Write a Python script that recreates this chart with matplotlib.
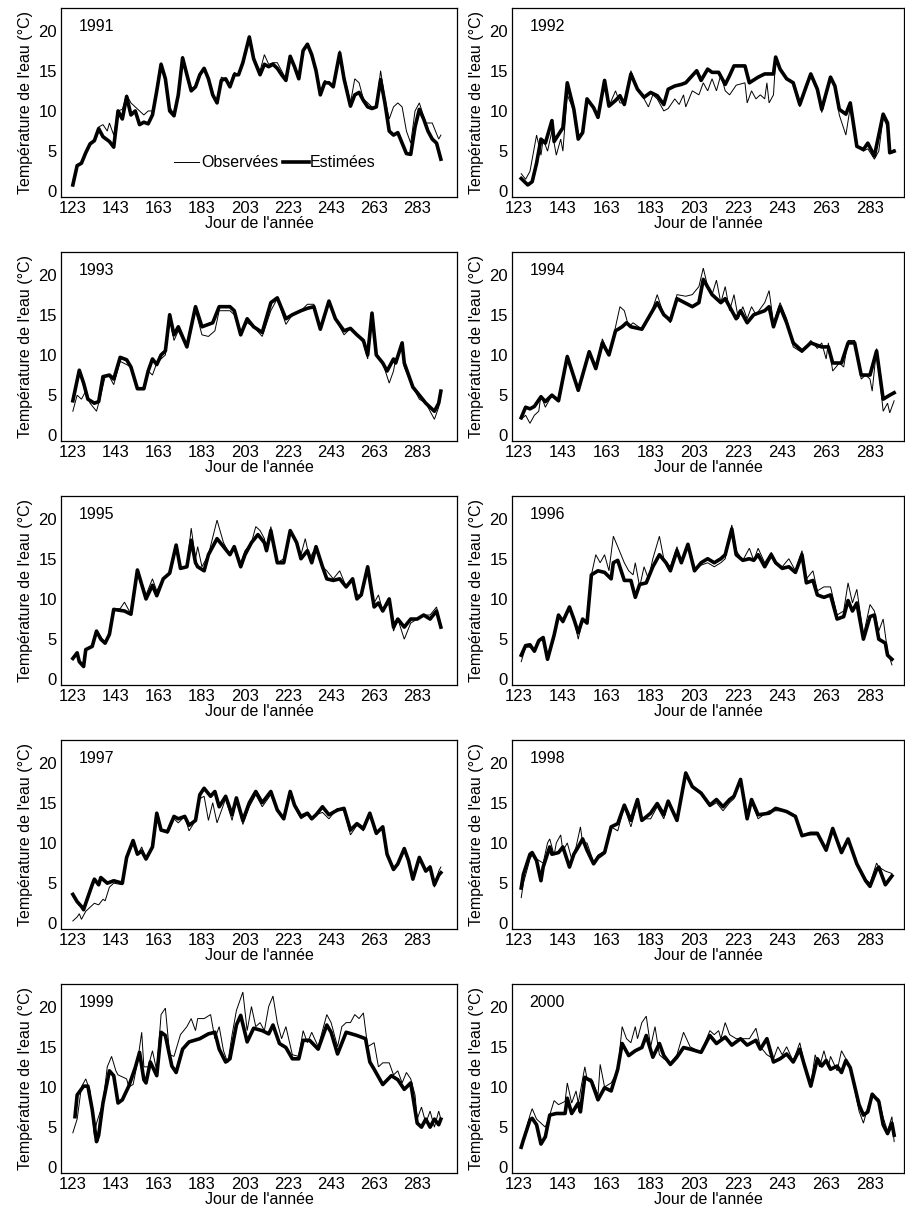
import matplotlib
matplotlib.use("Agg")
import matplotlib.pyplot as plt

plt.rcParams['font.family'] = ['Liberation Sans Narrow', 'Liberation Sans', 'DejaVu Sans']

# (day, temperature) turning points
est_1991 = [(123,0.8),(125,3.2),(127,3.5),(129,4.8),(131,5.9),(133,6.3),(135,7.8),(137,6.8),(140,6.2),(142,5.5),(144,10),(146,9),(148,11.8),(150,9.5),(152,10),(154,8.3),(156,8.6),(158,8.4),(160,9.5),(162,12.5),(164,15.8),(166,14),(168,10),(170,9.4),(172,12),(174,16.6),(176,14.5),(178,12.5),(180,13),(182,14.5),(184,15.3),(186,14),(188,12),(190,11),(192,13.8),(194,14),(196,13),(198,14.5),(200,14.5),(202,16),(205,19.2),(207,16.5),(210,14.5),(212,15.8),(214,15.5),(216,15.8),(218,15.3),(220,14.5),(222,13.8),(224,16.8),(226,15.5),(228,14),(230,17.5),(232,18.3),(234,17),(236,15),(238,12),(240,13.5),(242,13.5),(244,13),(247,17.2),(249,14),(252,10.6),(254,12),(256,12.3),(258,11.3),(260,10.5),(262,10.3),(264,10.5),(266,13.9),(268,11),(270,7.5),(272,7),(274,7.3),(276,6),(278,4.7),(280,4.6),(282,8),(284,10.2),(286,9),(288,7.5),(290,6.5),(292,6),(294,4)]
obs_1991 = [(123,0.8),(125,3.2),(127,3.5),(129,4.8),(131,6),(133,6.5),(135,8),(137,8.3),(139,7.5),(140,8.5),(142,7),(144,10),(146,10.2),(148,12),(150,11),(152,10.5),(154,10),(156,9.5),(158,10),(160,10),(162,12.5),(164,16),(166,14),(168,10.5),(170,9.6),(172,12),(174,16.8),(176,14.5),(178,12.8),(180,13),(182,14.5),(184,15.3),(186,14),(188,12),(190,11.2),(192,14.2),(194,14),(196,13.2),(198,14.8),(200,14.5),(202,16),(205,19),(207,16.5),(210,15),(212,17),(214,15.8),(216,16),(218,16),(220,15),(222,14),(224,16.8),(226,15.5),(228,14.2),(230,17.5),(232,18.3),(234,17.2),(236,15),(238,12.2),(240,13.8),(242,13.5),(244,13.2),(247,17.5),(249,14.5),(252,11),(254,14),(256,13.5),(258,11.5),(260,11),(262,10.5),(264,10.5),(266,15),(268,11.5),(270,9),(272,10.5),(274,11),(276,10.5),(278,7.5),(280,6),(282,10),(284,11),(287,8.5),(290,8.5),(293,6.5),(294,7)]

est_1992 = [(124,1.6),(127,0.8),(129,1.2),(131,3.5),(133,6.5),(135,6),(138,8.8),(139,6.2),(142,7.5),(143,7.9),(145,13.5),(148,10.2),(150,6.5),(152,7.3),(154,11.5),(157,10.4),(159,9.2),(162,13.8),(164,10.6),(167,11.3),(169,11.9),(171,10.8),(174,14.6),(177,12.7),(180,11.7),(183,12.3),(186,11.9),(189,10.8),(191,12.7),(194,13.1),(197,13.3),(199,13.5),(204,15),(206,13.8),(209,15.2),(211,14.8),(214,14.8),(217,13.3),(219,14.4),(221,15.6),(226,15.6),(228,13.5),(232,14.2),(235,14.6),(239,14.6),(240,16.7),(242,15.2),(245,14),(248,13.5),(251,10.8),(254,13.1),(256,14.6),(259,12.7),(261,10.2),(265,14.2),(267,13.1),(269,10.2),(272,9.6),(274,11),(277,5.6),(280,5.2),(282,6),(285,4.4),(289,9.6),(291,8.5),(292,4.8),(294,5)]
obs_1992 = [(124,2.2),(126,1.5),(128,2.5),(131,7),(133,4.5),(134,6.5),(136,5),(138,7.5),(140,4.5),(142,6.5),(143,5),(145,12),(148,10),(150,6.5),(152,7.3),(154,11.5),(157,10.4),(159,9.2),(162,13.5),(164,10.6),(167,12.5),(169,11),(171,11),(174,15),(177,12.7),(180,11.5),(182,10.5),(184,12),(186,11.5),(189,10),(191,10.3),(194,11.5),(196,10.8),(198,12),(199,10.5),(202,12.5),(205,12),(207,13.5),(209,12.5),(211,14),(213,12.5),(215,14.5),(217,12.5),(219,12),(222,13.2),(226,13.5),(227,11),(229,12.5),(231,11.5),(233,12),(235,11.5),(236,13.5),(237,11),(239,12),(240,16.5),(242,15),(245,14),(248,13.5),(251,10.5),(254,13.1),(256,14.3),(259,12.5),(261,9.8),(265,14),(267,13),(269,9.5),(272,7),(274,10.5),(277,5.6),(280,5),(282,5.3),(285,4),(287,5),(289,9.2),(291,8),(292,4.8),(294,5.2)]

est_1993 = [(123,4.3),(126,8.1),(128,6.5),(130,4.5),(133,4),(135,4.2),(137,7.3),(140,7.5),(142,7),(145,9.7),(148,9.4),(150,8.5),(153,5.8),(156,5.8),(158,8),(160,9.5),(162,8.8),(164,10),(166,10.5),(168,15),(170,12.5),(172,13.5),(176,11),(180,16),(183,13.5),(188,14),(191,16),(196,16),(198,15.5),(201,12.5),(204,14.5),(207,13.5),(211,12.8),(215,16.5),(218,17.1),(222,14.5),(225,15),(229,15.5),(232,15.8),(235,16),(238,13.2),(242,16.7),(245,14.5),(249,13),(252,13.3),(255,12.5),(258,11.8),(260,10),(262,15.2),(264,10),(267,9),(269,8),(272,9.5),(273,9),(276,11.5),(277,9),(281,6),(284,5),(287,4),(291,3),(293,4),(294,5.5)]
obs_1993 = [(123,3),(125,5),(127,4.5),(129,5.5),(131,4),(134,3),(136,5),(138,7.3),(140,7.3),(142,6.3),(145,9.2),(148,8.8),(150,8.5),(153,5.8),(156,5.8),(158,8),(160,7.5),(162,9),(164,9.5),(166,10),(168,14.5),(170,11.8),(172,13),(176,11),(180,15.5),(183,12.5),(186,12.3),(189,13),(191,15.5),(196,15.5),(198,15),(201,12.8),(204,14),(207,13.5),(211,12.3),(215,15.5),(218,17),(222,13.8),(225,15),(229,15.5),(232,16.3),(235,16.3),(238,13.5),(242,16.5),(245,14.5),(249,12.5),(252,13.3),(255,12.5),(258,11.5),(260,9.5),(262,15),(264,10),(267,9),(270,6.5),(272,8),(273,9.5),(276,11),(277,8.5),(281,6),(284,4.5),(287,4),(291,2),(293,3.5),(294,5)]

est_1994 = [(124,2.2),(126,3.5),(128,3.3),(130,3.6),(133,4.8),(135,4.2),(138,5),(141,4.3),(145,9.8),(150,5.6),(155,10.4),(158,8.3),(161,11.5),(164,10),(167,13),(170,13.5),(172,14),(174,13.5),(179,13.2),(186,16.5),(189,15),(192,14.3),(195,17),(202,16),(205,16.5),(207,19.4),(211,17.5),(215,16.5),(217,17),(220,15.5),(222,14.5),(224,15.5),(227,14),(230,15),(235,15.5),(237,16),(239,13.5),(242,16),(245,14),(248,11.5),(252,10.5),(256,11.5),(261,11),(264,11),(266,9),(270,9),(273,11.5),(276,11.5),(279,7.5),(283,7.5),(286,10.5),(289,4.5),(292,5),(294,5.3)]
obs_1994 = [(124,2),(126,2.5),(128,1.5),(130,2.5),(132,3),(133,5),(135,3.5),(138,5),(141,4.3),(145,10),(150,5.5),(155,10.5),(158,8.3),(161,12),(164,10),(167,13.5),(169,16),(171,15.5),(173,13.5),(175,14),(179,13.2),(183,15),(186,17.5),(189,15),(192,14),(195,17.5),(199,17.3),(202,17.5),(205,18.5),(207,20.8),(209,18.5),(211,17.5),(213,19.3),(215,16.5),(217,18.5),(219,15.5),(221,17.5),(223,14.5),(225,16),(227,14.5),(229,16),(231,15),(235,16.5),(237,18),(239,14),(242,16.5),(245,14.5),(248,11),(252,10.3),(256,11.8),(259,10.8),(261,11.5),(263,9.5),(264,11.5),(266,8),(269,9),(271,8.5),(273,11.8),(276,11.8),(279,7),(281,7.5),(283,7),(284,5.5),(286,10.8),(289,3),(291,4),(292,2.8),(294,4.3)]

est_1995 = [(123,2.6),(125,3.3),(126,2.2),(128,1.6),(129,3.7),(132,4.1),(134,6),(136,5),(138,4.5),(140,5.6),(142,8.7),(147,8.5),(150,8.1),(153,13.6),(157,10),(160,11.7),(162,10.4),(165,12.5),(168,13.2),(171,16.7),(173,13.8),(176,14),(178,17.3),(180,14.5),(181,14),(184,13.5),(186,15.5),(190,17.5),(193,16.5),(196,15.5),(198,16.5),(201,14),(203,15.5),(206,17),(209,18),(212,17),(213,16),(215,18.5),(218,14.5),(221,14.5),(224,18.5),(227,17),(229,15),(232,16),(234,14.5),(236,16.5),(239,14),(241,12.5),(244,12.3),(247,12.5),(250,11.5),(253,12.5),(255,10),(257,10.5),(260,14),(263,9),(265,9.5),(267,8.5),(270,10),(272,6.5),(274,7.5),(277,6.5),(280,7.5),(283,7.5),(286,8),(289,7.5),(292,8.5),(294,6.5)]
obs_1995 = [(123,2.6),(125,3.3),(126,2.2),(128,1.8),(129,3.7),(132,4.1),(134,6),(136,5.3),(138,4.5),(140,5.6),(142,8.7),(145,8.8),(147,9.6),(150,8.1),(153,13.5),(157,10.5),(160,12.5),(162,11),(165,12.5),(168,13.2),(171,16.5),(173,14),(176,14),(178,18.8),(180,15),(181,16.5),(183,14),(186,15.5),(190,19.8),(193,17),(196,15.5),(198,16.5),(201,14.5),(203,16),(206,17),(208,19),(210,18.5),(212,17.5),(213,16),(215,19),(218,14.5),(221,15),(224,18.5),(227,17),(229,15.5),(231,17.5),(233,15),(236,16.5),(239,14),(241,13.5),(244,12.5),(247,13.5),(250,11.5),(253,12.5),(255,10.5),(257,10.5),(260,14),(263,9.5),(265,10.5),(267,8.5),(270,9.5),(272,6),(274,7.5),(277,5),(280,7),(283,7.5),(286,8),(289,8),(292,9),(294,6.5)]

est_1996 = [(124,3),(126,4.2),(128,4.3),(130,3.5),(132,4.8),(134,5.2),(136,2.5),(139,5.5),(141,8),(143,7.2),(146,9),(148,7.5),(150,5.8),(152,7.5),(154,7),(156,13),(159,13.5),(162,13.3),(165,12.5),(166,14.5),(168,14.8),(171,12.3),(174,12.3),(176,10.2),(178,11.8),(181,12),(184,14),(187,15.5),(190,14.5),(192,13.5),(195,16),(197,14.5),(200,16.8),(203,13.5),(206,14.5),(209,15),(212,14.5),(215,15),(217,15.5),(220,18.7),(222,15.5),(225,14.8),(228,15),(230,14.8),(232,15.5),(235,14),(238,15.5),(240,14.5),(243,13.8),(246,14),(249,13.3),(252,15.5),(254,12),(257,12.3),(259,10.5),(262,10.2),(265,10.5),(268,7.5),(271,7.8),(273,9.8),(275,8.5),(277,9.5),(280,5),(283,7.8),(285,8),(287,5),(290,4.5),(291,3),(293,2.5)]
obs_1996 = [(124,2.2),(126,4),(128,4),(130,3.5),(132,5),(134,5.3),(136,2.5),(139,5.5),(141,8),(143,7),(146,9),(148,7.5),(150,5),(152,7.5),(154,7),(156,13),(158,15.5),(160,14.5),(162,15.5),(164,13.5),(166,17.8),(168,16.5),(171,14.5),(173,13.5),(175,13),(176,14.5),(178,11.5),(180,14),(182,12.5),(184,15),(187,17.8),(189,15),(192,14),(195,16.5),(197,14.5),(200,16.8),(203,13.5),(206,14.2),(209,14.5),(212,14),(215,14.5),(217,15),(220,19.2),(222,16),(225,14.8),(228,16.3),(230,14.8),(232,16.3),(235,14.5),(238,15.8),(240,14.5),(243,14),(246,15),(249,13.5),(252,16),(254,12.5),(257,13.5),(259,11),(262,11.5),(265,11.5),(268,8),(271,8.5),(273,12),(275,9.5),(277,11.2),(280,5.5),(283,9.3),(285,8.5),(287,6),(289,7.5),(291,3.5),(293,1.8)]

est_1997 = [(123,3.6),(125,2.7),(127,2.1),(128,1.7),(129,2.5),(132,4.8),(133,5.5),(135,4.8),(136,5.7),(139,5),(142,5.3),(146,5),(148,8.2),(151,10.3),(153,8.6),(155,9),(157,8),(160,9.5),(162,13.7),(164,11.6),(167,11.4),(170,13.3),(172,13),(175,13.3),(177,12.2),(180,12.8),(182,16),(184,16.8),(187,15.8),(189,16.4),(191,14.5),(194,15.8),(197,13.5),(199,15.6),(202,12.8),(205,15),(208,16.4),(211,15),(215,16.4),(218,14.1),(221,13),(224,16.4),(226,14.7),(229,13.3),(232,13.7),(234,13),(236,13.5),(239,14.5),(242,13.5),(246,14.1),(249,14.3),(252,11.6),(255,12.4),(258,11.8),(261,13.7),(264,11.2),(267,12),(269,8.6),(272,6.7),(274,7.4),(277,9.3),(279,7.8),(281,5.5),(284,8.2),(287,6.5),(289,7),(291,4.8),(293,6),(294,6.3)]
obs_1997 = [(123,0.3),(125,0.8),(126,1.2),(127,0.5),(129,1.5),(131,2),(133,2.5),(135,2.3),(137,3),(138,2.8),(140,4.5),(142,5),(146,4.8),(148,8),(151,10),(153,8.5),(155,9.5),(157,8),(160,9.5),(162,13.5),(164,11.5),(167,11.2),(170,13),(172,12.5),(175,13.3),(177,11.5),(180,12.8),(182,15.5),(184,15.8),(186,12.8),(188,15),(190,12.5),(192,14),(194,15.5),(197,12.8),(199,15.5),(202,12.3),(205,14.5),(208,16),(211,14.5),(215,16),(218,14),(221,13),(224,16),(226,14.5),(229,13),(232,13.5),(234,13),(236,13.5),(239,13.8),(242,13),(246,14.3),(249,14),(252,11),(255,12.2),(258,11.5),(261,13.5),(264,11),(267,12),(269,8.5),(272,7),(274,7.2),(277,9),(279,7.5),(281,5.8),(284,8),(287,6.5),(289,7.2),(291,4.5),(293,6.5),(294,7)]

est_1998 = [(124,4.4),(125,6.1),(128,8.6),(129,8.8),(131,7.8),(133,5.3),(134,7),(137,9.5),(138,8.6),(141,8.8),(143,9.5),(146,7),(148,8.6),(150,9.5),(152,10.5),(154,9.1),(157,7.4),(159,8.2),(162,8.8),(165,12),(168,12.4),(171,14.7),(174,12.8),(177,15.4),(179,12.8),(183,13.7),(186,14.9),(189,13.5),(191,15.2),(195,12.8),(199,18.7),(202,17),(206,16.2),(210,14.7),(213,15.4),(216,14.5),(219,15.4),(221,15.8),(224,17.9),(227,13),(229,15.4),(232,13.5),(237,13.7),(240,14.3),(245,13.9),(249,13.3),(252,10.9),(256,11.2),(259,11.2),(263,9.1),(266,11.8),(270,8.8),(273,10.5),(277,7.4),(281,5.3),(283,4.6),(286,6.7),(287,7),(290,4.8),(293,5.9)]
obs_1998 = [(124,3.2),(125,5),(128,8),(129,8.5),(131,8),(134,7.5),(136,10),(137,10.5),(139,8.5),(140,10),(142,11),(143,9),(145,10),(147,8),(149,9.5),(151,12),(152,10),(154,10),(157,7.6),(159,8.5),(162,9),(165,12),(168,11.5),(171,14.5),(174,12),(177,15),(179,13),(183,13),(186,14.5),(189,13),(191,15),(195,12.8),(199,18.3),(202,17),(206,16),(210,14.5),(213,15),(216,14),(219,15),(221,15.5),(224,17.8),(227,13.5),(229,15),(232,13),(237,14),(240,14),(245,14),(249,13.3),(252,11),(256,11),(259,11),(263,9.5),(266,11.5),(270,9),(273,10.5),(277,7.5),(281,5.5),(283,5),(286,7.5),(287,7),(290,6.5),(293,6.2)]

est_1999 = [(124,6.3),(125,9),(128,10.1),(130,10.1),(132,7.2),(134,3.2),(135,4),(137,8),(140,12),(142,11.4),(144,8),(146,8.4),(149,10.1),(152,12.4),(154,14.3),(156,10.9),(157,10.5),(159,13.1),(162,11.4),(164,16.8),(166,16.4),(169,12.6),(171,11.8),(174,14.7),(177,15.6),(182,16),(186,16.6),(189,16.8),(191,14.7),(194,13.1),(196,13.5),(199,17.7),(201,18.9),(204,15.6),(207,17.3),(211,17),(214,16.6),(216,17.7),(219,15.4),(222,14.9),(225,13.5),(228,13.5),(230,15.8),(233,15.8),(237,14.7),(241,17.7),(243,16.8),(246,14.1),(250,16.8),(255,16.4),(259,16),(261,13.1),(263,12.2),(267,10.3),(271,11.4),(274,10.9),(277,9.7),(280,10.5),(283,5.5),(285,5),(287,6),(289,5),(291,6),(293,5.3),(294,6)]
obs_1999 = [(123,4.3),(125,6),(127,10),(129,11),(131,9.5),(133,4),(134,5.5),(137,8),(139,12.5),(141,13.8),(143,12),(144,11.5),(148,11),(149,10),(151,10.3),(153,13),(155,16.8),(156,12.5),(158,12.5),(160,14.5),(162,12),(164,19),(166,19.8),(168,14),(170,13.8),(173,16.5),(176,17.5),(178,18.5),(180,17),(181,18.5),(184,18.5),(187,19),(189,16),(191,17.5),(193,14.5),(195,13),(197,16.5),(199,19.5),(202,21.8),(204,17),(206,20),(208,17.5),(210,18),(212,17),(214,20),(216,21.3),(218,18),(220,16),(222,17.5),(225,14),(228,13.8),(230,17),(232,15.5),(234,16.8),(237,15),(241,19),(243,18),(246,15),(248,17.5),(250,18),(252,18),(254,19),(256,18.5),(258,19.2),(260,15),(263,15.5),(265,12.5),(267,13),(270,13),(272,11.5),(274,12),(276,10.5),(278,11.8),(280,11),(282,9),(283,6),(285,7.5),(287,5.5),(289,7),(291,5),(293,7),(294,6)]

est_2000 = [(124,2.5),(125,3.4),(128,5.9),(129,6.1),(131,5.3),(133,2.9),(135,3.8),(137,6.5),(140,6.7),(144,6.7),(145,8.6),(147,6.7),(150,8),(151,6.9),(153,11.2),(156,10.7),(159,8.4),(162,9.9),(165,9.5),(168,12.2),(170,15.4),(173,13.9),(176,14.5),(179,14.9),(181,16.4),(184,13.7),(187,15.4),(189,13.9),(192,12.8),(195,13.7),(198,14.9),(201,14.7),(206,14.3),(210,16.4),(213,15.4),(217,16.2),(220,15.2),(224,16),(227,15.2),(231,15.8),(233,14.7),(236,16),(239,13.1),(242,13.5),(245,14.1),(248,13.1),(251,14.7),(253,12.8),(256,10.1),(259,13.5),(261,12.6),(263,13.3),(265,12.2),(268,12.6),(270,11.8),(272,13.3),(274,12.4),(278,7.8),(280,6.5),(282,6.9),(284,9.1),(287,8.2),(289,5.3),(291,4.2),(293,5.5),(294,4)]
obs_2000 = [(124,2.5),(125,3.5),(128,6.5),(129,7.3),(131,6),(133,5.5),(135,5),(137,6.5),(139,8.3),(141,7.8),(144,8.2),(145,10.5),(147,8),(149,9.5),(150,8),(153,12.5),(154,11),(156,11),(159,9),(160,12.8),(162,10),(165,10.5),(168,12),(170,17.5),(172,16),(174,15.5),(176,17.5),(177,16),(179,18),(181,18.8),(183,15),(185,17.5),(187,14),(189,13.5),(192,13),(195,14),(198,16.8),(201,15),(206,14.3),(210,17),(212,16.5),(214,17),(215,16),(217,18),(219,16.5),(222,16),(225,16),(228,16),(231,17.3),(233,15),(236,14),(239,13.5),(241,15),(243,14),(245,15),(248,13.2),(251,15.5),(253,13),(256,10.3),(258,14),(260,12.5),(262,14.5),(264,12.5),(265,13.8),(268,12),(270,14.5),(272,13.5),(274,12.5),(278,7),(280,5.5),(282,7.5),(284,9),(287,8.5),(289,6.2),(291,4.5),(293,6.3),(294,3.2)]

years = [1991, 1992, 1993, 1994, 1995, 1996, 1997, 1998, 1999, 2000]
series = {
    1991: (obs_1991, est_1991), 1992: (obs_1992, est_1992),
    1993: (obs_1993, est_1993), 1994: (obs_1994, est_1994),
    1995: (obs_1995, est_1995), 1996: (obs_1996, est_1996),
    1997: (obs_1997, est_1997), 1998: (obs_1998, est_1998),
    1999: (obs_1999, est_1999), 2000: (obs_2000, est_2000),
}
xticks = [123, 143, 163, 183, 203, 223, 243, 263, 283]
yticks = [0, 5, 10, 15, 20]

W, H = 905, 1218
fig = plt.figure(figsize=(W / 100, H / 100), dpi=100)

row_bottoms = [197, 441, 685, 929, 1173]   # px from top
ax_h = 189
col_left = [61, 512]
col_w = [396, 392]
col_xlim = [(117.5, 301.5), (119.8, 298.5)]

for i, yr in enumerate(years):
    r, c = divmod(i, 2)
    ax = fig.add_axes([col_left[c] / W, 1 - row_bottoms[r] / H, col_w[c] / W, ax_h / H])
    obs, est = series[yr]
    ax.plot([d for d, v in obs], [v for d, v in obs], color='black', lw=0.7,
            label='Observées', solid_joinstyle='miter')
    ax.plot([d for d, v in est], [v for d, v in est], color='black', lw=2.6,
            label='Estimées')
    ax.set_xlim(*col_xlim[c])
    ax.set_ylim(-0.7, 22.8)
    ax.set_xticks(xticks)
    ax.set_yticks(yticks)
    ax.tick_params(length=0, labelsize=12, pad=3)
    for s in ax.spines.values():
        s.set_linewidth(0.9)
    ax.set_xlabel("Jour de l'année", fontsize=11.5, labelpad=0)
    ax.set_ylabel("Température de l'eau (°C)", fontsize=11.5, labelpad=4)
    ax.text(0.045, 0.9, str(yr), transform=ax.transAxes, fontsize=11.5,
            ha='left', va='center')
    if yr == 1991:
        ax.legend(loc='center', bbox_to_anchor=(0.54, 0.18), ncol=2, frameon=False,
                  fontsize=11.5, handlelength=1.6, handletextpad=0.1,
                  columnspacing=0.3, borderpad=0)

fig.savefig('out.png', dpi=100)
